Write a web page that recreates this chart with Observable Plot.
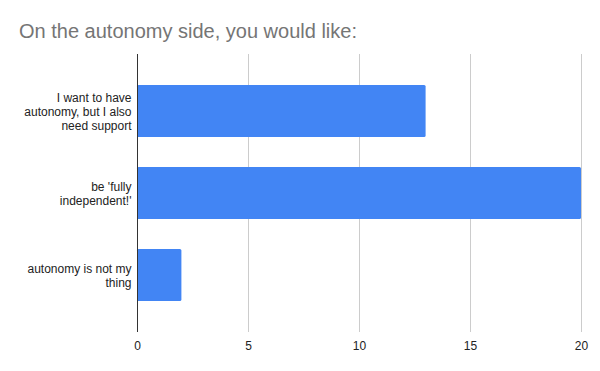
<!DOCTYPE html>
<html>
<head>
<meta charset="utf-8">
<script src="https://cdn.jsdelivr.net/npm/d3@7"></script>
<script src="https://cdn.jsdelivr.net/npm/@observablehq/plot@0.6"></script>
<style>
  body { margin: 0; background: #fff; }
  #wrap { position: relative; width: 600px; height: 371px; font-family: "Liberation Sans", Arial, sans-serif; }
  #title { position: absolute; left: 19px; top: 20px; font-size: 20px; color: #757575; white-space: nowrap; }
</style>
</head>
<body>
<div id="wrap">
  <div id="title">On the autonomy side, you would like:</div>
</div>
<script>
const categories = ["I want to have autonomy, but I also need support", "be 'fully independent!'", "autonomy is not my thing"];
const labels = ["I want to have\nautonomy, but I also\nneed support", "be 'fully\nindependent!'", "autonomy is not my\nthing"];
const counts = [13, 20, 2];
const xTicks = [0, 5, 10, 15, 20];

const data = categories.map((c, i) => ({category: c, count: counts[i]}));
const labelOf = new Map(categories.map((c, i) => [c, labels[i]]));

const chart = Plot.plot({
  width: 600,
  height: 371,
  marginTop: 54,
  marginBottom: 39,
  marginLeft: 137,
  marginRight: 19,
  style: {fontFamily: "'Liberation Sans', Arial, sans-serif", fontSize: "12px", color: "#222", background: "#fff"},
  x: {domain: [0, 20], ticks: xTicks, label: null},
  y: {domain: categories, paddingInner: 0.36, paddingOuter: 0.355, label: null},
  marks: [
    Plot.gridX(xTicks.filter(t => t > 0), {stroke: "#cccccc", strokeOpacity: 1, strokeWidth: 1}),
    Plot.barX(data, {x: "count", y: "category", fill: "#4285F4", rx: 1.5}),
    Plot.ruleX([0], {stroke: "#333", strokeWidth: 1}),
    Plot.axisX({ticks: xTicks, tickSize: 0, tickPadding: 9, label: null, fill: "#222"}),
    Plot.axisY({tickSize: 0, tickPadding: 6, label: null, tickFormat: d => labelOf.get(d), lineHeight: 1.17, fill: "#222"})
  ]
});
document.getElementById("wrap").appendChild(chart);
</script>
</body>
</html>
